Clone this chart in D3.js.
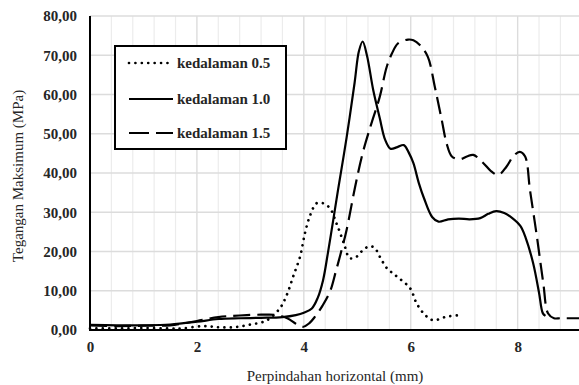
<!DOCTYPE html>
<html>
<head>
<meta charset="utf-8">
<script src="https://cdn.jsdelivr.net/npm/d3@7/dist/d3.min.js"></script>
<style>
  html, body { margin: 0; padding: 0; background: #fff; }
  svg { display: block; }
</style>
</head>
<body>
<svg id="chart" width="579" height="385"></svg>
<script>
// Series: horizontal displacement (mm) and maximum stress (MPa) per cut depth
const seriesNames = ["kedalaman 0.5", "kedalaman 1.0", "kedalaman 1.5"];

const xDepth05 = [0, 0.5, 1.0, 1.5, 1.72, 2.12, 2.4, 2.7, 3.0, 3.3, 3.55, 3.68, 3.8, 3.93, 4.02, 4.12, 4.24, 4.36, 4.49, 4.61, 4.74, 4.86, 4.99, 5.1, 5.22, 5.32, 5.42, 5.55, 5.67, 5.8, 5.99, 6.11, 6.27, 6.42, 6.67, 6.95];
const yDepth05 = [0.4, 0.4, 0.5, 0.4, 0.4, 1.0, 0.7, 0.7, 1.4, 2.4, 5.5, 8.9, 13.6, 18.7, 24.6, 29.3, 32.3, 32.3, 31.0, 27.2, 22.5, 18.3, 18.7, 20.3, 21.3, 21.0, 18.7, 15.8, 14.4, 13.0, 10.6, 6.8, 3.8, 2.5, 3.4, 3.8];

const xDepth10 = [0, 0.5, 1.0, 1.5, 2.0, 2.4, 2.8, 3.2, 3.6, 3.85, 4.0, 4.15, 4.26, 4.36, 4.45, 4.55, 4.64, 4.8, 4.95, 5.03, 5.1, 5.18, 5.3, 5.42, 5.52, 5.62, 5.75, 5.87, 5.97, 6.05, 6.15, 6.25, 6.4, 6.52, 6.7, 6.9, 7.1, 7.3, 7.45, 7.6, 7.75, 7.9, 8.05, 8.15, 8.29, 8.4, 8.47, 8.52];
const yDepth10 = [1.3, 1.2, 1.2, 1.4, 2.1, 2.8, 3.0, 3.1, 3.3, 3.8, 4.4, 5.5, 8.2, 12.7, 19.6, 28.0, 35.7, 49.0, 63.0, 71.0, 73.5, 70.0, 61.0, 54.0, 48.5, 46.2, 46.6, 47.1, 45.0, 42.5, 37.5, 33.5, 28.8, 27.6, 28.2, 28.4, 28.2, 28.5, 29.6, 30.3, 29.8, 28.5, 26.5, 23.5, 17.0, 9.5, 4.3, 3.6];

const xDepth15 = [0, 0.5, 1.0, 1.5, 2.0, 2.4, 2.8, 3.2, 3.5, 3.7, 3.85, 3.98, 4.1, 4.21, 4.35, 4.49, 4.6, 4.68, 4.8, 4.96, 5.1, 5.25, 5.42, 5.55, 5.65, 5.76, 5.95, 6.05, 6.17, 6.32, 6.45, 6.58, 6.67, 6.77, 6.92, 7.05, 7.17, 7.36, 7.5, 7.64, 7.79, 7.92, 8.04, 8.14, 8.23, 8.36, 8.48, 8.57, 8.68, 8.8, 9.0, 9.2];
const yDepth15 = [1.2, 1.0, 1.1, 1.2, 2.3, 3.3, 3.7, 3.9, 3.8, 2.9, 1.6, 0.8, 1.7, 3.4, 6.2, 9.8, 15.0, 19.0, 25.5, 36.5, 45.0, 52.0, 59.4, 67.0, 70.5, 73.0, 74.0, 73.8, 72.6, 69.6, 62.0, 53.5, 47.6, 44.2, 43.5, 44.2, 44.6, 42.5, 40.5, 39.5, 41.6, 44.3, 45.4, 44.2, 35.7, 23.8, 11.9, 4.2, 3.0, 3.0, 3.0, 3.0];

const xTicks = [0, 2, 4, 6, 8];
const yTicks = [0, 10, 20, 30, 40, 50, 60, 70, 80];
const xMinorStep = 0.4;

const xTitle = "Perpindahan horizontal (mm)";
const yTitle = "Tegangan Maksimum (MPa)";

const svg = d3.select("#chart");
const serif = "'Liberation Serif', 'Times New Roman', serif";

const x = d3.scaleLinear().domain([0, 9.2]).range([90, 581.8]);
const y = d3.scaleLinear().domain([0, 80]).range([330, 16]);

// Minor vertical gridlines
const minor = d3.range(0, 9.2 + 1e-9, xMinorStep).filter(v => xTicks.indexOf(Math.round(v * 10) / 10) < 0);
svg.append("g").selectAll("line").data(minor).join("line")
  .attr("x1", d => x(d)).attr("x2", d => x(d))
  .attr("y1", y(80)).attr("y2", y(0))
  .attr("stroke", "#ececec").attr("stroke-width", 1.2);

// Major vertical gridlines
svg.append("g").selectAll("line").data(xTicks.filter(d => d > 0)).join("line")
  .attr("x1", d => x(d)).attr("x2", d => x(d))
  .attr("y1", y(80)).attr("y2", y(0))
  .attr("stroke", "#dcdcdc").attr("stroke-width", 1.4);

// Horizontal gridlines
svg.append("g").selectAll("line").data(yTicks.filter(d => d > 0)).join("line")
  .attr("x1", x(0)).attr("x2", 579)
  .attr("y1", d => y(d)).attr("y2", d => y(d))
  .attr("stroke", "#dcdcdc").attr("stroke-width", 1.4);

// Series lines
const line = d3.line().curve(d3.curveCatmullRom.alpha(0.5));
const styles = [
  { dash: "0.01,6.4", width: 2.7, cap: "round" },
  { dash: null, width: 2.2, cap: "butt" },
  { dash: "17,7", width: 2.2, cap: "butt" }
];
const seriesData = [
  xDepth05.map((v, i) => [x(v), y(yDepth05[i])]),
  xDepth10.map((v, i) => [x(v), y(yDepth10[i])]),
  xDepth15.map((v, i) => [x(v), y(yDepth15[i])])
];
seriesData.forEach((pts, i) => {
  svg.append("path")
    .attr("d", line(pts))
    .attr("fill", "none")
    .attr("stroke", "#000")
    .attr("stroke-width", styles[i].width)
    .attr("stroke-linecap", styles[i].cap)
    .attr("stroke-dasharray", styles[i].dash);
});

// Axes
const fmt = v => d3.format(".2f")(v).replace(".", ",");
const yAxis = svg.append("g")
  .attr("transform", `translate(${x(0)},0)`)
  .call(d3.axisLeft(y).tickValues(yTicks).tickSize(0).tickPadding(13).tickFormat(fmt));
const xAxis = svg.append("g")
  .attr("transform", `translate(0,${y(0)})`)
  .call(d3.axisBottom(x).tickValues(xTicks).tickSize(0).tickPadding(11).tickFormat(d3.format("d")));
[yAxis, xAxis].forEach(g => {
  g.select(".domain").remove();
  g.selectAll("text")
    .attr("fill", "#262626")
    .style("font-family", serif)
    .style("font-size", "15px")
    .style("font-weight", "bold");
});

svg.append("line")
  .attr("x1", x(0)).attr("x2", x(0))
  .attr("y1", y(80)).attr("y2", y(0) + 1)
  .attr("stroke", "#000").attr("stroke-width", 2);
svg.append("line")
  .attr("x1", x(0) - 1).attr("x2", 579)
  .attr("y1", y(0)).attr("y2", y(0))
  .attr("stroke", "#000").attr("stroke-width", 2);

// Axis titles
svg.append("text")
  .attr("x", 335).attr("y", 381)
  .attr("text-anchor", "middle")
  .attr("fill", "#262626")
  .style("font-family", serif).style("font-size", "15px")
  .text(xTitle);
svg.append("text")
  .attr("transform", "translate(23,176) rotate(-90)")
  .attr("text-anchor", "middle")
  .attr("fill", "#262626")
  .style("font-family", serif).style("font-size", "15px")
  .text(yTitle);

// Legend
const legend = svg.append("g");
legend.append("rect")
  .attr("x", 115).attr("y", 46).attr("width", 171).attr("height", 103)
  .attr("fill", "#fff").attr("stroke", "#000").attr("stroke-width", 2);
const rowY = [63, 99, 133];
seriesNames.forEach((name, i) => {
  legend.append("line")
    .attr("x1", 129).attr("x2", 173)
    .attr("y1", rowY[i]).attr("y2", rowY[i])
    .attr("stroke", "#000")
    .attr("stroke-width", styles[i].width)
    .attr("stroke-linecap", styles[i].cap)
    .attr("stroke-dasharray", i === 2 ? "20,7" : styles[i].dash);
  legend.append("text")
    .attr("x", 177).attr("y", rowY[i] + 5)
    .attr("fill", "#262626")
    .style("font-family", serif).style("font-size", "15px").style("font-weight", "bold")
    .text(name);
});
</script>
</body>
</html>
